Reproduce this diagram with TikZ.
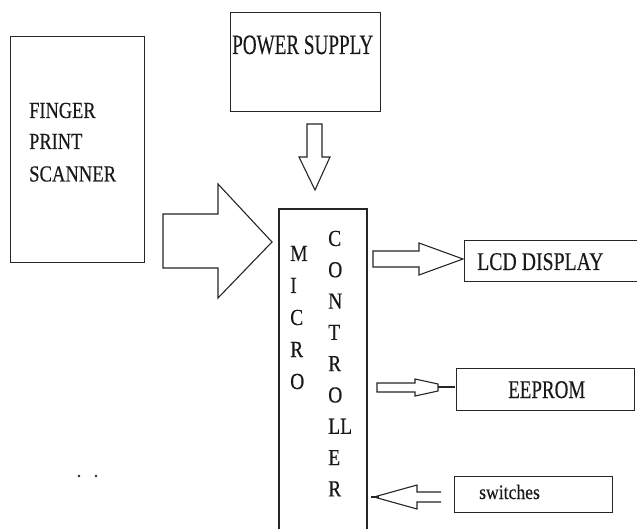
\documentclass[tikz,border=0pt]{standalone}
\usepackage{fontspec}
\usepackage{graphicx}
\setmainfont[FakeBold=0.3]{Liberation Serif}
\newcommand{\mytxt}[3]{\fontsize{#1}{#1}\selectfont\scalebox{#2}[1]{#3}}
\tikzset{
  box/.style={draw=black!85, line width=1.1pt, rectangle, inner sep=0pt, anchor=north west},
  lbl/.style={inner sep=0pt, anchor=base west, text=black!90},
  blockarrow/.style={draw=black!85, line width=1.1pt, line join=miter},
}
\begin{document}
\begin{tikzpicture}[x=1pt, y=-1pt]
\useasboundingbox (0,0) rectangle (637,529);
\fill[white] (0,0) rectangle (637,529);

% boxes
\node[box, minimum width=134, minimum height=226] (fps) at (10,36) {};
\node[box, minimum width=150, minimum height=99] (pwr) at (230,12) {};
\node[box, minimum width=185, minimum height=41] (lcd) at (464,240) {};
\node[box, minimum width=178, minimum height=42] (eep) at (456,368) {};
\node[box, minimum width=158, minimum height=36] (sw) at (454,476) {};
\draw[draw=black!85, line width=1.1pt] (279,535) -- (279,209) -- (367,209) -- (367,535);

% texts
\node[lbl] (t1) at (29,118) {\mytxt{23}{0.8}{FINGER}};
\node[lbl] (t2) at (29,149) {\mytxt{23}{0.8}{PRINT}};
\node[lbl] (t3) at (29,181.5) {\mytxt{23}{0.81}{SCANNER}};
\node[lbl] (tp) at (232,54) {\mytxt{28}{0.683}{POWER SUPPLY}};
\node[lbl] (tl) at (477,270) {\mytxt{25.5}{0.776}{LCD DISPLAY}};
\node[lbl] (te) at (508,398) {\mytxt{25.5}{0.745}{EEPROM}};
\node[lbl] (ts) at (479,499) {\mytxt{20.5}{0.86}{switches}};

\foreach \l [count=\i from 0] in {M,I,C,R,O}
  \node[lbl] (m\i) at (290,{261+32*\i}) {\mytxt{23}{0.85}{\l}};
\foreach \l [count=\i from 0] in {C,O,N,T,R,O,LL,E,R}
  \node[lbl] (c\i) at (328,{246+31.3*\i}) {\mytxt{23}{0.85}{\l}};

% block arrows
\draw[blockarrow] (163,214) -- (218,214) -- (218,184) -- (272,242) -- (218,298) -- (218,268) -- (163,268) -- cycle;
\draw[blockarrow] (307,124) -- (322,124) -- (322,157) -- (330,157) -- (315,190) -- (299,157) -- (307,157) -- cycle;
\draw[blockarrow] (373,251) -- (419,251) -- (419,243) -- (463,259) -- (419,275) -- (419,267) -- (373,267) -- cycle;
\draw[blockarrow] (377,383) -- (415,383) -- (415,379) -- (438,384) -- (438,391) -- (415,396) -- (415,392) -- (377,392) -- cycle;
\draw[black!85, line width=2.5pt] (438,387) -- (455,387);
\draw[blockarrow] (441,492) -- (417,492) -- (417,485) -- (374,497) -- (417,509) -- (417,502) -- (441,502);
\draw[black!85, line width=2.5pt] (371,497) -- (379,497);

% stray dots
\fill[black!85] (79,476) circle (1.3);
\fill[black!85] (96,476) circle (1.3);
\end{tikzpicture}
\end{document}
